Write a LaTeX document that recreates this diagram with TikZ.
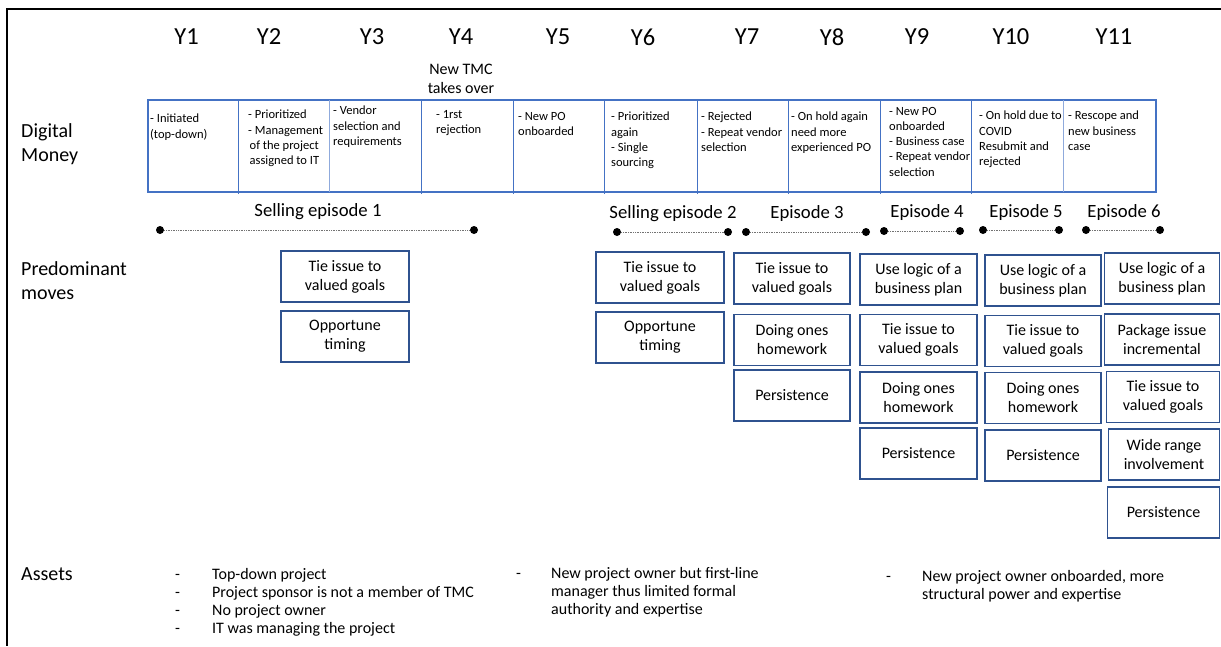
\documentclass[tikz,border=0pt]{standalone}
\usepackage{fontspec}
\setmainfont{Carlito}
\definecolor{tblblue}{RGB}{68,114,196}
\definecolor{tbllight}{RGB}{143,170,220}
\definecolor{boxblue}{RGB}{47,82,143}

\begin{document}
\begin{tikzpicture}[x=1pt,y=-1pt,
	yr/.style={font=\fontsize{24.5}{29}\selectfont},
	cell/.style={anchor=north west,inner sep=0pt,align=left,font=\fontsize{12.5}{15.2}\selectfont},
	move/.style={draw=boxblue,line width=1.3pt,inner sep=0pt,minimum height=51pt,align=center,font=\fontsize{16}{19}\selectfont},
	epdot/.style={circle,fill=black,inner sep=0pt,minimum size=8pt},
	eplbl/.style={font=\fontsize{18.7}{22}\selectfont},
	epline/.style={densely dotted,black!55,line width=0.7pt},
	rowlbl/.style={anchor=west,inner sep=0pt,align=left,font=\fontsize{20}{24}\selectfont},
	asset/.style={anchor=north west,inner sep=0pt,font=\fontsize{16}{18.3}\selectfont}]
			\useasboundingbox (0,0) rectangle (1221,646);
			% frame (top and left only)
			\draw[line width=2pt] (1221,9) -- (7,9) -- (7,646);
			% years
			\foreach \x/\n in {186.5/1,269/2,372/3,461/4,558/5,643/6,747/7,832/8,917/9,1011/10,1114/11}
				\node[yr] (y\n) at (\x,37) {Y\n};
			\node[align=center,inner sep=0pt,font=\fontsize{16}{19}\selectfont] (tmc) at (461,78.5) {New TMC\\takes over};
			% row labels
			\node[rowlbl] (dm) at (21,144) {Digital\\Money};
			\node[rowlbl] (pm) at (21,281) {Predominant\\moves};
			\node[rowlbl] (as) at (21,574) {Assets};
			% timeline table
			\draw[tblblue,line width=1.3pt] (148,100) rectangle (1156,192);
			\foreach \x in {238,421,513,604,697,788,880,971}
				\draw[tblblue,line width=1pt] (\x,100) -- (\x,194);
			\foreach \x in {329,1063}
				\draw[tbllight,line width=1pt] (\x,100) -- (\x,192);
			\node[cell] (c1) at (150,114) {- Initiated\\(top-down)};
			\node[cell] (c2) at (248,110) {- Prioritized\\- Management\\\hspace*{1.5pt}of the project\\\hspace*{1.5pt}assigned to IT};
			\node[cell] (c3) at (333,106) {- Vendor\\selection and\\requirements};
			\node[cell] (c4) at (436,110) {- 1rst\\rejection};
			\node[cell] (c5) at (518,112) {- New PO\\onboarded};
			\node[cell] (c6) at (611,112) {- Prioritized\\again\\- Single\\sourcing};
			\node[cell] (c7) at (701,112) {- Rejected\\- Repeat vendor\\selection};
			\node[cell] (c8) at (791,112) {- On hold again\\need more\\experienced PO};
			\node[cell] (c9) at (889,107) {- New PO\\onboarded\\- Business case\\- Repeat vendor\\selection};
			\node[cell] (c10) at (979,111) {- On hold due to\\COVID\\Resubmit and\\rejected};
			\node[cell] (c11) at (1068,111) {- Rescope and\\new business\\case};
			% episodes
			\node[eplbl] (l1) at (318,212) {Selling episode 1};
			\node[epdot] (e1a) at (160,230) {};
			\node[epdot] (e1b) at (474,230) {};
			\node[eplbl] (l2) at (673,214) {Selling episode 2};
			\node[epdot] (e2a) at (617,232) {};
			\node[epdot] (e2b) at (728,232) {};
			\node[eplbl] (l3) at (807,214) {Episode 3};
			\node[epdot] (e3a) at (746,232) {};
			\node[epdot] (e3b) at (866,232) {};
			\node[eplbl] (l4) at (927,213) {Episode 4};
			\node[epdot] (e4a) at (884,231) {};
			\node[epdot] (e4b) at (960,231) {};
			\node[eplbl] (l5) at (1026,213) {Episode 5};
			\node[epdot] (e5a) at (983,230) {};
			\node[epdot] (e5b) at (1059,230) {};
			\node[eplbl] (l6) at (1124,213) {Episode 6};
			\node[epdot] (e6a) at (1086,230) {};
			\node[epdot] (e6b) at (1160,230) {};
			\foreach \i in {1,...,6}
				\draw[epline] (e\i a) -- (e\i b);
			% predominant moves
			\node[move,minimum width=128pt] (m11) at (345,276.5) {Tie issue to\\valued goals};
			\node[move,minimum width=128pt] (m12) at (345,336.5) {Opportune\\timing};
			\node[move,minimum width=128pt] (m21) at (660,277.5) {Tie issue to\\valued goals};
			\node[move,minimum width=128pt] (m22) at (660,337.5) {Opportune\\timing};
			\node[move,minimum width=116pt] (m31) at (792,278.5) {Tie issue to\\valued goals};
			\node[move,minimum width=116pt] (m32) at (792,340) {Doing ones\\homework};
			\node[move,minimum width=116pt] (m33) at (792,395.5) {Persistence};
			\node[move,minimum width=117pt] (m41) at (918.5,279.5) {Use logic of a\\business plan};
			\node[move,minimum width=117pt] (m42) at (918.5,340) {Tie issue to\\valued goals};
			\node[move,minimum width=117pt] (m43) at (918.5,397.5) {Doing ones\\homework};
			\node[move,minimum width=117pt] (m44) at (918.5,453.5) {Persistence};
			\node[move,minimum width=116pt] (m51) at (1043,280.5) {Use logic of a\\business plan};
			\node[move,minimum width=116pt] (m52) at (1043,341) {Tie issue to\\valued goals};
			\node[move,minimum width=116pt] (m53) at (1043,398) {Doing ones\\homework};
			\node[move,minimum width=116pt] (m54) at (1043,455.5) {Persistence};
			\node[move,minimum width=115pt] (m61) at (1162,278.5) {Use logic of a\\business plan};
			\node[move,minimum width=115pt] (m62) at (1162,339.5) {Package issue\\incremental};
			\node[move,minimum width=113pt] (m63) at (1163,397) {Tie issue to\\valued goals};
			\node[move,minimum width=111pt] (m64) at (1164,454.5) {Wide range\\involvement};
			\node[move,minimum width=112pt] (m65) at (1163.5,512.5) {Persistence};
			% assets
			\node[asset] (a1) at (175,566) {\begin{tabular}{@{}p{37pt}@{}l@{}}
				- & Top-down project\\
				- & Project sponsor is not a member of TMC\\
				- & No project owner\\
				- & IT was managing the project
			\end{tabular}};
			\node[asset] (a2) at (516,565) {\begin{tabular}{@{}p{35pt}@{}l@{}}
				- & New project owner but first-line\\
				  & manager thus limited formal\\
				  & authority and expertise
			\end{tabular}};
			\node[asset] (a3) at (886,568) {\begin{tabular}{@{}p{36pt}@{}l@{}}
				- & New project owner onboarded, more\\
				  & structural power and expertise
			\end{tabular}};
		\end{tikzpicture}
\end{document}
